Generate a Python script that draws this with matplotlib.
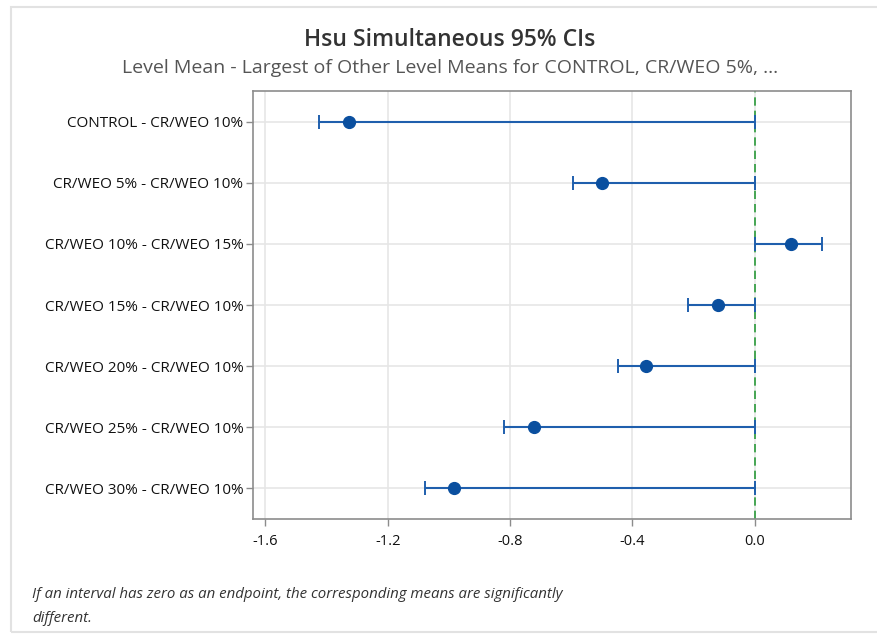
import numpy as np
import matplotlib
matplotlib.use("Agg")
import matplotlib.pyplot as plt
from matplotlib.patches import Rectangle

plt.rcParams['font.family'] = ['Open Sans', 'DejaVu Sans']
plt.rcParams['axes.unicode_minus'] = False

# Hsu MCB intervals: level mean - largest of the other level means
labels = ['CONTROL - CR/WEO 10%', 'CR/WEO 5% - CR/WEO 10%', 'CR/WEO 10% - CR/WEO 15%',
          'CR/WEO 15% - CR/WEO 10%', 'CR/WEO 20% - CR/WEO 10%', 'CR/WEO 25% - CR/WEO 10%',
          'CR/WEO 30% - CR/WEO 10%']
center = [-1.327, -0.500, 0.118, -0.121, -0.356, -0.722, -0.984]
lower = [-1.425, -0.595, 0.000, -0.219, -0.448, -0.820, -1.078]
upper = [0.000, 0.000, 0.219, 0.000, 0.000, 0.000, 0.000]
xticks = [-1.6, -1.2, -0.8, -0.4, 0.0]

fig = plt.figure(figsize=(8.78, 6.34), dpi=100)
W, H = 878, 634
ax = fig.add_axes([253 / W, 1 - 519 / H, (851 - 253) / W, (519 - 91) / H])

# light frame around the whole graph
fig.patches.append(Rectangle((11 / W, 1 - 632 / H), 1.0, (632 - 7) / H, transform=fig.transFigure,
                             fill=False, edgecolor='#e2e2e2', linewidth=1.5))

y = np.arange(len(labels))
c = np.array(center)
err = [c - np.array(lower), np.array(upper) - c]
ax.errorbar(c, y, xerr=err, fmt='o', color='#1f5fad', ecolor='#1f5fad', markersize=8.5,
            markerfacecolor='#0a4f9f', markeredgecolor='#0a4f9f', elinewidth=1.5,
            capsize=5, capthick=1.4, zorder=3)
ax.axvline(0, color='#2a9a3a', linestyle=(0, (5, 3)), linewidth=1.2, zorder=2)

ax.set_xlim(-1.64, 0.314)
ax.set_ylim(len(labels) - 0.5, -0.5)
ax.set_xticks(xticks)
ax.set_xticklabels([f'{t:.1f}' for t in xticks])
ax.set_yticks(y)
ax.set_yticklabels(labels, fontsize=11)
ax.grid(True, color='#e6e6e6', linewidth=1.2, zorder=0)
ax.set_axisbelow(True)
for s in ax.spines.values():
    s.set_color('#8c8c8c')
    s.set_linewidth(1.2)
ax.tick_params(axis='both', colors='#8c8c8c', labelcolor='#111111', length=5, width=1)
ax.tick_params(axis='x', labelsize=10.5, pad=6)
ax.tick_params(axis='y', pad=2)

fig.text(450 / W, 1 - 40 / H, 'Hsu Simultaneous 95% CIs', ha='center', va='center',
         fontsize=16.5, fontweight='semibold', color='#333333')
fig.text(450 / W, 1 - 68 / H, 'Level Mean - Largest of Other Level Means for CONTROL, CR/WEO 5%, ...',
         ha='center', va='center', fontsize=14, color='#555555')
fig.text(32 / W, 1 - 594 / H, 'If an interval has zero as an endpoint, the corresponding means are significantly',
         ha='left', va='center', fontsize=10.8, style='italic', color='#333333')
fig.text(32 / W, 1 - 618 / H, 'different.', ha='left', va='center', fontsize=10.8,
         style='italic', color='#333333')

fig.savefig('out.png', dpi=100)
